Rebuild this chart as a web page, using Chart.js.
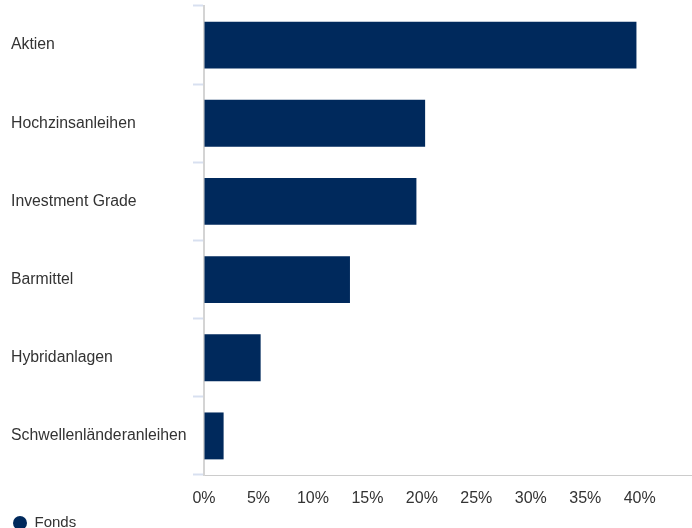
<!DOCTYPE html>
<html>
<head>
<meta charset="utf-8">
<script src="https://cdn.jsdelivr.net/npm/chart.js@4/dist/chart.umd.min.js"></script>
<style>
  html, body { margin: 0; padding: 0; background: #fff; }
  #wrap { width: 692px; height: 528px; position: relative; }
</style>
</head>
<body>
<div id="wrap"><canvas id="chart"></canvas></div>
<script>
// chart data
const categories = ["Aktien", "Hochzinsanleihen", "Investment Grade", "Barmittel", "Hybridanlagen", "Schwellenländeranleihen"];
const fondsValues = [39.7, 20.3, 19.5, 13.4, 5.2, 1.8];
const seriesName = "Fonds";

const textColor = "#333333";
const barColor = "#00295c";
const fontFamily = "Liberation Sans, Arial, sans-serif";

new Chart(document.getElementById("chart"), {
  type: "bar",
  data: {
    labels: categories,
    datasets: [
      {
        label: seriesName,
        data: fondsValues,
        backgroundColor: barColor,
        borderWidth: 0,
        categoryPercentage: 1,
        barPercentage: 0.6,
      },
    ],
  },
  options: {
    indexAxis: "y",
    responsive: true,
    maintainAspectRatio: false,
    animation: false,
    layout: { padding: { left: 11, right: 0, top: 6, bottom: -12.5 } },
    plugins: {
      tooltip: { enabled: false },
      legend: {
        position: "bottom",
        align: "start",
        labels: {
          usePointStyle: true,
          pointStyle: "circle",
          boxWidth: 14,
          boxHeight: 10,
          pointStyleWidth: 14,
          color: textColor,
          font: { family: fontFamily, size: 15 },
          padding: 2,
        },
      },
    },
    scales: {
      x: {
        min: 0,
        max: 44.8,
        grid: { drawOnChartArea: false, drawTicks: false },
        border: { color: "#cccccc", width: 1 },
        ticks: {
          stepSize: 5,
          includeBounds: false,
          padding: 14,
          color: textColor,
          font: { family: fontFamily, size: 16 },
          callback: (v) => (v % 5 === 0 ? v + "%" : null),
        },
        afterFit: (scale) => {
          scale.height = 38.5;
        },
      },
      y: {
        grid: {
          drawOnChartArea: false,
          tickLength: 11,
          tickColor: "#d8e0f0",
          tickWidth: 2,
        },
        border: { color: "#d4d4d4", width: 2 },
        ticks: {
          crossAlign: "far",
          color: textColor,
          font: { family: fontFamily, size: 15.8 },
        },
        afterFit: (scale) => {
          scale.width = 193;
          // labels sit in the middle of each band, no extra room needed
          scale.paddingTop = 0;
          scale.paddingBottom = 0;
        },
      },
    },
  },
});
</script>
</body>
</html>
